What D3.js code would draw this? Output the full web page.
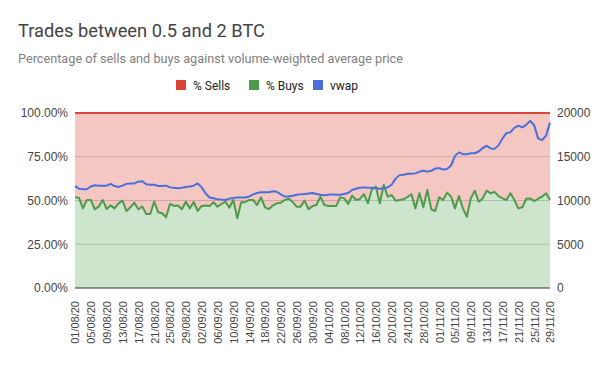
<!DOCTYPE html>
<html>
<head>
<meta charset="utf-8">
<script src="https://cdn.jsdelivr.net/npm/d3@7"></script>
<style>
  html, body { margin: 0; padding: 0; background: #fff; }
  svg { display: block; font-family: Roboto, "Liberation Sans", Arial, sans-serif; }
</style>
</head>
<body>
<svg id="chart" width="600" height="372"></svg>
<script>
// ---- data ----
const startDate = "2020-08-01";
const dayCount = 121;

const buysPct = [
  51.8, 51.6, 45.5, 50.3, 50.3, 45.0, 46.5, 50.3, 45.1, 47.2,
  45.5, 48.4, 49.9, 44.0, 46.1, 48.7, 45.0, 46.5, 42.3, 42.3,
  49.3, 43.3, 42.7, 40.4, 48.0, 46.9, 47.2, 45.0, 49.3, 45.5,
  49.1, 44.0, 46.9, 47.2, 46.9, 49.0, 46.5, 48.0, 49.3, 45.9,
  50.3, 39.8, 49.0, 49.0, 50.3, 50.3, 47.4, 51.8, 46.1, 45.1,
  47.2, 48.4, 48.7, 50.3, 51.0, 49.1, 46.5, 46.5, 49.9, 45.0,
  46.9, 47.4, 52.2, 47.4, 46.9, 46.9, 46.9,
  51.8, 51.2, 48.0, 52.7, 50.3, 50.9, 53.7, 48.4, 56.4, 57.9,
  48.4, 58.9, 52.2, 53.1, 49.9, 50.3, 50.7, 52.0, 53.5, 45.5,
  54.1, 46.1, 56.0, 45.0, 44.0, 51.8, 50.3, 54.5, 52.2, 45.5,
  52.6, 45.5, 40.7, 51.2, 55.6, 49.3, 51.2, 55.6, 54.1, 54.9,
  52.5, 51.2, 50.3, 54.1, 50.3, 45.5, 46.1, 51.0, 51.2, 49.7,
  51.0, 52.2, 54.1, 50.3
];

const vwap = [
  11650, 11350, 11300, 11300, 11600, 11750, 11700, 11700, 11700, 11900,
  11650, 11550, 11700, 11900, 11950, 11950, 12150, 12200, 11850, 11800,
  11800, 11650, 11650, 11700, 11500, 11450, 11400, 11450, 11550, 11600,
  11700, 11950, 11500, 10800, 10350, 10250, 10150, 10100, 10050, 10200,
  10300, 10350, 10350, 10350, 10450, 10700, 10850, 10950, 10950, 10950,
  11050, 11000, 10700, 10450, 10450, 10550, 10650, 10700, 10750, 10800,
  10850, 10750, 10650, 10600, 10650, 10700, 10650, 10650, 10750, 10850,
  11200, 11350, 11450, 11500, 11450, 11450, 11400, 11350, 11400, 11500,
  11800, 12500, 12900, 12950, 13050, 13050, 13100, 13300, 13400, 13300,
  13400, 13650, 13700, 13550, 13600, 14000, 15100, 15500, 15300, 15300,
  15400, 15400, 15600, 16000, 16250, 15950, 15900, 16300, 17100, 17700,
  17800, 18300, 18550, 18350, 18650, 19100, 18600, 17100, 16900, 17400,
  18900
];

const pctTicks = [0, 25, 50, 75, 100];
const vwapTicks = [0, 5000, 10000, 15000, 20000];
const seriesNames = ["% Sells", "% Buys", "vwap"];
const seriesColors = ["#db4437", "#4e9a4b", "#4a6fdc"];

const titleText = "Trades between 0.5 and 2 BTC";
const subtitleText = "Percentage of sells and buys against volume-weighted average price";

// ---- build rows ----
const parse = d3.timeParse("%Y-%m-%d");
const d0 = parse(startDate);
const n = Math.min(buysPct.length, vwap.length, dayCount);
const rows = d3.range(n).map(i => ({
  date: d3.timeDay.offset(d0, i),
  buys: buysPct[i],
  sells: 100 - buysPct[i],
  vwap: vwap[i]
}));

// ---- layout ----
const svg = d3.select("#chart");
const M = { left: 75, right: 550, top: 113, bottom: 288 };

const x = d3.scaleTime()
  .domain(d3.extent(rows, d => d.date))
  .range([M.left, M.right]);
const yL = d3.scaleLinear().domain([0, 100]).range([M.bottom, M.top]);
const yR = d3.scaleLinear().domain([0, 20000]).range([M.bottom, M.top]);

// title / subtitle
svg.append("text").attr("x", 18).attr("y", 37)
  .attr("font-size", 18.3).attr("fill", "#444").text(titleText);
svg.append("text").attr("x", 18).attr("y", 63)
  .attr("font-size", 12.7).attr("fill", "#808080").text(subtitleText);

// legend
const legendX = [176, 249, 313];
const lg = svg.append("g");
seriesNames.forEach((name, i) => {
  lg.append("rect").attr("x", legendX[i]).attr("y", 80).attr("width", 10).attr("height", 10)
    .attr("fill", seriesColors[i]);
  lg.append("text").attr("x", legendX[i] + 17).attr("y", 89.5)
    .attr("font-size", 12).attr("fill", "#222").text(name);
});

// areas
const areaSells = d3.area().x(d => x(d.date)).y0(d => yL(d.buys)).y1(() => yL(100));
const areaBuys = d3.area().x(d => x(d.date)).y0(yL(0)).y1(d => yL(d.buys));
svg.append("path").datum(rows).attr("d", areaSells).attr("fill", "#f4c7c3");
svg.append("path").datum(rows).attr("d", areaBuys).attr("fill", "#cce5cc");

// gridlines (drawn tinted over the fills)
const grid = svg.append("g");
[25, 50, 75].forEach(t => {
  grid.append("line").attr("x1", M.left).attr("x2", M.right)
    .attr("y1", yL(t)).attr("y2", yL(t))
    .attr("stroke", "#000").attr("stroke-opacity", 0.16).attr("stroke-width", 1);
});

// series lines
svg.append("path").datum(rows)
  .attr("d", d3.line().x(d => x(d.date)).y(() => yL(100)))
  .attr("fill", "none").attr("stroke", seriesColors[0]).attr("stroke-width", 2);
svg.append("path").datum(rows)
  .attr("d", d3.line().x(d => x(d.date)).y(d => yL(d.buys)))
  .attr("fill", "none").attr("stroke", seriesColors[1]).attr("stroke-width", 2)
  .attr("stroke-linejoin", "round");
svg.append("path").datum(rows)
  .attr("d", d3.line().x(d => x(d.date)).y(d => yR(d.vwap)))
  .attr("fill", "none").attr("stroke", seriesColors[2]).attr("stroke-width", 2)
  .attr("stroke-linejoin", "round");

// baseline
svg.append("line").attr("x1", M.left).attr("x2", M.right)
  .attr("y1", M.bottom).attr("y2", M.bottom).attr("stroke", "#333").attr("stroke-width", 1);

// left axis
const axL = svg.append("g").attr("transform", `translate(${M.left},0)`)
  .call(d3.axisLeft(yL).tickValues(pctTicks).tickSize(0).tickPadding(7)
    .tickFormat(d => d3.format(".2f")(d) + "%"));
axL.select(".domain").remove();
axL.selectAll("text").attr("font-size", 12).attr("fill", "#444").attr("font-family", null);

// right axis
const axR = svg.append("g").attr("transform", `translate(${M.right},0)`)
  .call(d3.axisRight(yR).tickValues(vwapTicks).tickSize(0).tickPadding(7)
    .tickFormat(d3.format("d")));
axR.select(".domain").remove();
axR.selectAll("text").attr("font-size", 12).attr("fill", "#444").attr("font-family", null);

// bottom axis
const xTicks = rows.filter((d, i) => i % 4 === 0).map(d => d.date);
const axB = svg.append("g").attr("transform", `translate(0,${M.bottom})`)
  .call(d3.axisBottom(x).tickValues(xTicks).tickSize(0).tickFormat(d3.timeFormat("%d/%m/%y")));
axB.select(".domain").remove();
axB.selectAll("text")
  .attr("font-size", 11).attr("fill", "#444").attr("font-family", null)
  .attr("transform", "rotate(-90)")
  .attr("text-anchor", "end")
  .attr("x", -13).attr("y", 0).attr("dy", "0.35em");
</script>
</body>
</html>
